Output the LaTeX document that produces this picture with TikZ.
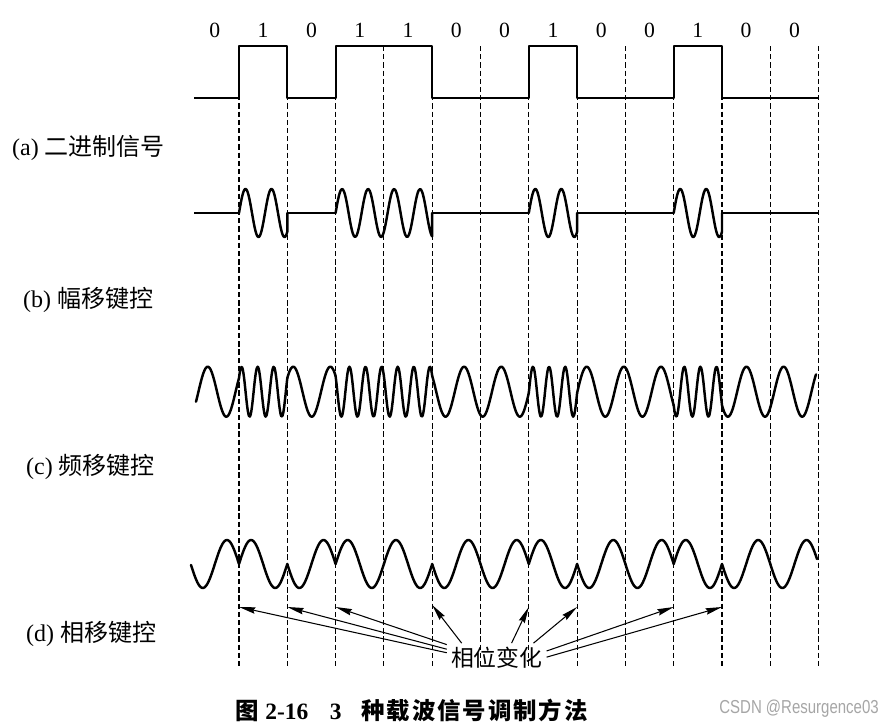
\documentclass[tikz,border=0pt]{standalone}
\usepackage{fontspec}
\setmainfont{Liberation Serif}
\newfontfamily\cjk{Noto Sans CJK SC}
\newfontfamily\wmfont{Liberation Sans}
\usepackage{tikz}
\usetikzlibrary{arrows.meta, calc}

\begin{document}
\begin{tikzpicture}[
    x=0.03cm, y=-0.03cm,
    sig/.style={line width=1.7pt, line join=round},
    wave/.style={line width=2.1pt, line join=round, line cap=round},
    bitline/.style={line width=0.9pt, dash pattern=on 4.5pt off 2.5pt},
    bitlbl/.style={inner sep=0, font=\fontsize{18.5}{20}\selectfont},
    lbl/.style={anchor=west, inner sep=0, font=\fontsize{20.5}{24}\selectfont},
    chgarrow/.style={line width=0.9pt, -{Stealth[length=14pt, width=5.5pt, inset=1.5pt]}}
]
    \fill[white] (0,0) rectangle (882,724);
    \def\xo{239}
    \def\bw{48.3}

    % Bit boundaries
    \foreach \k in {0,...,12}
        \draw[bitline] ({\xo+\bw*\k},46) -- ({\xo+\bw*\k},667);

    % Bit values
    \foreach \bit [count=\i from 0] in {0,1,0,1,1,0,0,1,0,0,1,0,0}
        \node[bitlbl] (b\i) at ({\xo+\bw*(\i-0.5)},30) {\bit};

    % (a) binary signal
    \draw[sig] (194,98) \foreach \ra/\rb in {0/1,2/4,6/7,9/10} {
        -- ({\xo+\bw*\ra},98) -- ({\xo+\bw*\ra},46) -- ({\xo+\bw*\rb},46) -- ({\xo+\bw*\rb},98)
    } -- ({\xo+\bw*12},98);

    % (b) ASK
    \draw[sig] (194,213) -- (\xo,213);
    \foreach \ra/\rb in {1/2,4/6,7/9,10/12}
        \draw[sig] ({\xo+\bw*\ra},213) -- ({\xo+\bw*\rb},213);
    \foreach \ra/\rb in {0/1,2/4,6/7,9/10} {
        \pgfmathsetmacro\xa{\xo+\bw*\ra}
        \pgfmathsetmacro\xb{\xo+\bw*\rb}
        \draw[wave] plot[domain=\xa:\xb, samples=80, smooth] (\x, {213-24*sin((\x-\xa)/26*360)}) -- (\xb,213);
    }

    % (c) FSK, phase carried from bit to bit
    \def\ph{-75}
    \foreach \bit [count=\i from 0] in {0,1,0,1,1,0,0,1,0,0,1,0,0} {
        \pgfmathsetmacro\xa{\i==0 ? 196 : \xo+\bw*(\i-1)}
        \pgfmathsetmacro\xb{\i==12 ? 816 : \xo+\bw*\i}
        \pgfmathsetmacro\xc{\xo+\bw*(\i-1)}
        \pgfmathsetmacro\cyc{\bit==1 ? 3 : 1.3}
        \draw[wave] plot[domain=\xa:\xb, samples=50, smooth] (\x, {391.7-25*sin(\ph+(\x-\xc)/\bw*\cyc*360)});
        \pgfmathsetmacro\nph{mod(\ph+360*\cyc,360)}
        \xdef\ph{\nph}
    }

    % (d) PSK
    \foreach \bit [count=\i from 0] in {0,1,0,1,1,0,0,1,0,0,1,0,0} {
        \pgfmathsetmacro\xa{\i==0 ? 191 : \xo+\bw*(\i-1)}
        \pgfmathsetmacro\xb{\i==12 ? 817 : \xo+\bw*\i}
        \pgfmathsetmacro\sg{\bit==1 ? -1 : 1}
        \draw[wave] plot[domain=\xa:\xb, samples=40, smooth] (\x, {564+24*(\sg)*sin((\x-\xo)/\bw*360)});
    }

    % Row labels
    \node[lbl] (la) at (12,148) {(a) {\cjk 二进制信号}};
    \node[lbl] (lb) at (23,300) {(b) {\cjk 幅移键控}};
    \node[lbl] (lc) at (26,467) {(c) {\cjk 频移键控}};
    \node[lbl] (ld) at (26,634) {(d) {\cjk 相移键控}};

    % Phase changes
    \node[inner sep=0.12cm, font=\fontsize{19.5}{22}\selectfont\cjk] (chg) at (496.7,658) {相位变化};
    \foreach \k in {0,1,2,6,7,9,10}
        \coordinate (p\k) at ({\xo+\bw*\k},607);
    \coordinate (p4) at ({\xo+\bw*4},605);
    \draw[chgarrow] (chg.174) -- (p0);
    \draw[chgarrow] (chg.170) -- (p1);
    \draw[chgarrow] (chg.165) -- (p2);
    \draw[chgarrow] (chg.157) -- (p4);
    \draw[chgarrow] (chg.45) -- (p6);
    \draw[chgarrow] (chg.22) -- (p7);
    \draw[chgarrow] (chg.8) -- (p9);
    \draw[chgarrow] (chg.1) -- (p10);

    % Caption
    \node[anchor=west, inner sep=0, font=\fontsize{20}{24}\selectfont\bfseries] (cap) at (235,711)
        {{\cjk 图}\hspace{0.2cm}2-16\hspace{0.65cm}3\hspace{0.6cm}{\cjk\addfontfeatures{LetterSpace=8}种载波信号调制方法}};
    \node[anchor=east, inner sep=0, text=black!35, font=\fontsize{16}{18}\selectfont\wmfont] (wm) at (879,709)
        {\scalebox{0.8}[1]{CSDN @Resurgence03}};
\end{tikzpicture}
\end{document}
